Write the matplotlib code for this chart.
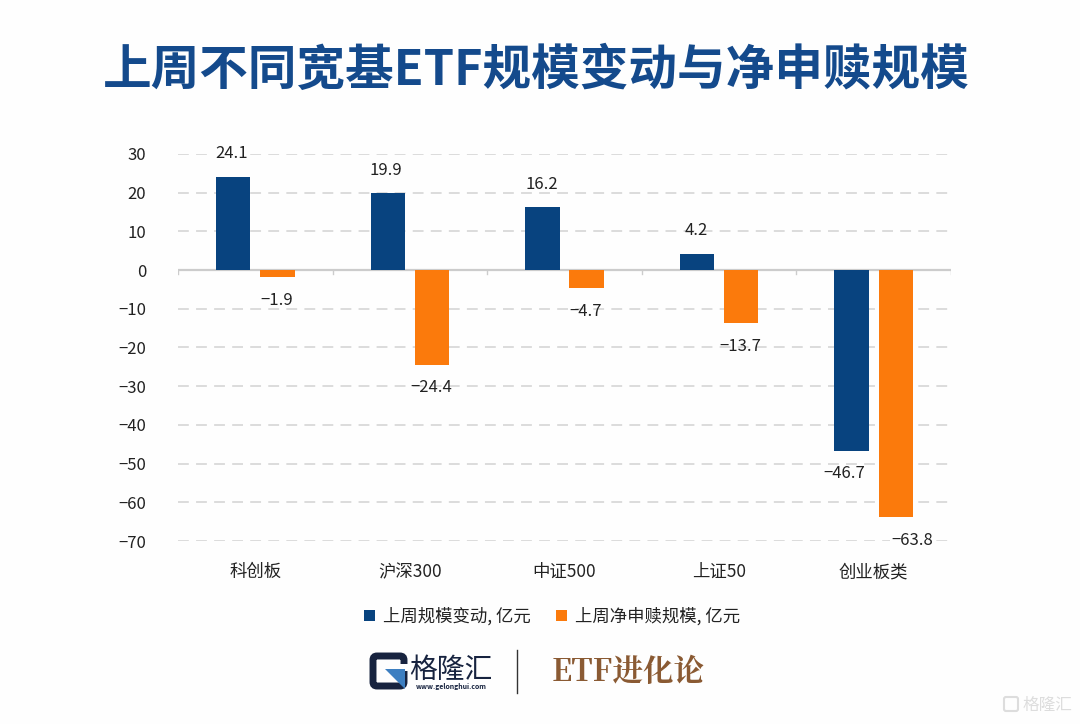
import numpy as np
import matplotlib
matplotlib.use('Agg')
import matplotlib.pyplot as plt
from matplotlib.patches import Rectangle, FancyBboxPatch, Polygon

plt.rcParams['font.family'] = ['Noto Sans CJK SC', 'DejaVu Sans']
plt.rcParams['axes.unicode_minus'] = True

categories = ['科创板', '沪深300', '中证500', '上证50', '创业板类']
scale_change = [24.1, 19.9, 16.2, 4.2, -46.7]
net_subscription = [-1.9, -24.4, -4.7, -13.7, -63.8]
series_names = ['上周规模变动, 亿元', '上周净申赎规模, 亿元']
yticks = [30, 20, 10, 0, -10, -20, -30, -40, -50, -60, -70]

title = '上周不同宽基ETF规模变动与净申赎规模'
blue = '#08437f'
orange = '#fb7a0c'

W, H = 1080, 724
fig = plt.figure(figsize=(W / 100, H / 100), dpi=100, facecolor='#fefefe')
ax = fig.add_axes([178 / W, 1 - 541 / H, (951 - 178) / W, (541 - 154) / H])
ax.patch.set_alpha(0)

x = np.arange(len(categories))
b1 = ax.bar(x - 0.143, scale_change, 0.223, color=blue, label=series_names[0], zorder=3)
b2 = ax.bar(x + 0.143, net_subscription, 0.223, color=orange, label=series_names[1], zorder=3)

ax.set_xlim(-0.5, 4.5)
ax.set_ylim(-70, 30)
ax.set_yticks(yticks)
ax.set_yticklabels([str(v).replace('-', '\u2212') for v in yticks])
ax.set_xticks(x)
ax.set_xticklabels(categories)
ax.tick_params(axis='y', length=0, pad=23, labelsize=12, labelcolor='#222222')
ax.tick_params(axis='x', length=0, pad=16, labelsize=12.5, labelcolor='#222222')

for s in ax.spines.values():
    s.set_visible(False)

ax.grid(axis='y', color='#d9d9d9', linestyle=(0, (6, 4)), linewidth=1.3, zorder=0)
ax.set_axisbelow(True)
ax.axhline(0, color='#cccccc', linewidth=1.6, zorder=2)
# little ticks between the groups on the zero line
for b in np.arange(-0.5, 5, 1):
    ax.plot([b, b], [0, -1.1], color='#cccccc', lw=1, zorder=2)

# label nudges in px, the original labels were dragged around by hand
nudge1 = [-2, -2, -1, -1, -7]
nudge2 = [-1, -1, -1, -1, 16]
for bars, vals, nudge in [(b1, scale_change, nudge1), (b2, net_subscription, nudge2)]:
    for r, v, n in zip(bars, vals, nudge):
        off = 23 if v > 0 else -23
        ax.annotate(f'{v:.1f}'.replace('-', '\u2212'),
                    (r.get_x() + r.get_width() / 2, v),
                    xytext=(n * 0.72, off * 0.72), textcoords='offset points',
                    ha='center', va='center', fontsize=12, color='#222222',
                    zorder=4, annotation_clip=False,
                    bbox=dict(fc='#fefefe', ec='none', pad=0.5) if abs(v) > 60 or v == 24.1 else None)

fig.text(536 / W, 1 - 70 / H, title, ha='center', va='center', fontsize=35,
         fontweight='bold', color='#144a8c')

ax.legend(handles=[b1, b2], loc='center', bbox_to_anchor=(552 / W, 1 - 616 / H),
          bbox_transform=fig.transFigure, ncols=2, frameon=False, fontsize=12.5,
          handlelength=0.6, handleheight=0.6, handletextpad=0.45, columnspacing=1.5,
          labelcolor='#222222')

# logo block at the bottom
logo = fig.add_axes([0, 0, 1, 1])
logo.set_xlim(0, W)
logo.set_ylim(H, 0)
logo.axis('off')
logo.patch.set_alpha(0)
logo.add_patch(FancyBboxPatch((373, 656), 31, 30, boxstyle='round,pad=0,rounding_size=4',
                              fc='none', ec='#17233f', lw=5))
logo.add_patch(Rectangle((392, 664), 16, 7, fc='#fefefe', ec='none'))
logo.add_patch(Polygon([(385, 669), (405, 669), (405, 689)], fc='#3d7fc1', ec='none'))
logo.text(451, 670, '格隆汇', ha='center', va='center', fontsize=20, color='#17233f')
logo.text(451, 686, 'www.gelonghui.com', ha='center', va='center', fontsize=5,
          fontweight='bold', color='#17233f')
logo.plot([517, 517], [650, 693], color='#333333', lw=1)
logo.text(628, 672, 'ETF进化论', ha='center', va='center', fontsize=22,
          fontweight='bold', color='#8a5a33', family=['Noto Serif CJK SC', 'Noto Sans CJK SC'])
# watermark
logo.add_patch(FancyBboxPatch((1004, 697), 14, 14, boxstyle='round,pad=0,rounding_size=2',
                              fc='none', ec='#dddddd', lw=1.5))
logo.text(1047, 705, '格隆汇', ha='center', va='center', fontsize=12, color='#dddddd')

fig.savefig('out.png', dpi=100, facecolor=fig.get_facecolor())
